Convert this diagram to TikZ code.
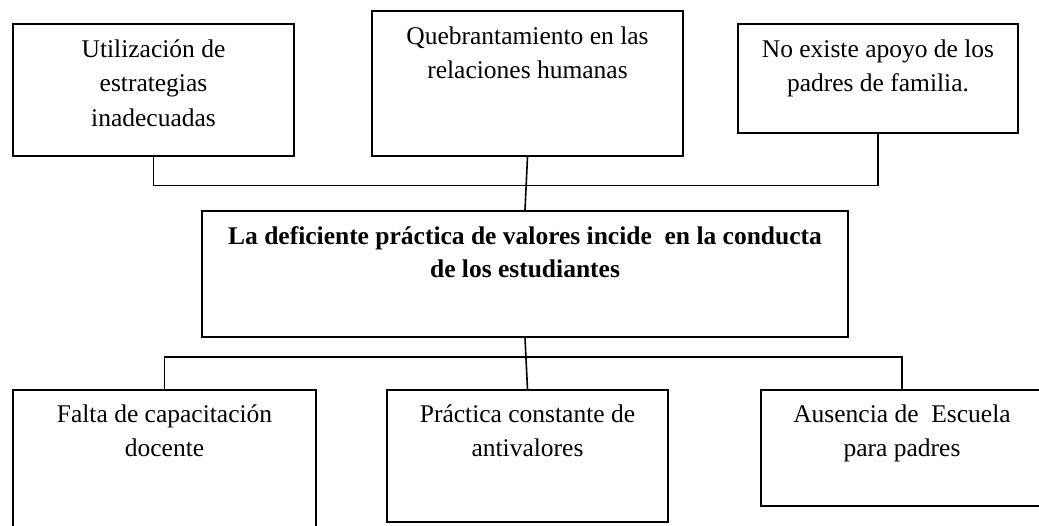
\documentclass[tikz,border=0pt]{standalone}
\usepackage{fontspec}
\setmainfont{Liberation Serif}
\usepackage{tikz}
\usetikzlibrary{positioning}

\begin{document}
\begin{tikzpicture}[x=1pt,y=-1pt,
    box/.style={draw, line width=1.6pt, inner sep=0pt},
    lbl/.style={align=center, inner sep=0pt, anchor=base,
      font=\fontsize{25.5}{34.5}\selectfont},
    link/.style={line width=1.6pt}]
        \useasboundingbox (0,0) rectangle (1039,526);
        \clip (0,0) rectangle (1039,526);

         % top row (base = last line)
        \node[box, minimum width=281, minimum height=132] (top1) at (153.5,90) {};
        \node[lbl] (top1t) at ([yshift=-103]top1.north) {Utilización de\\estrategias\\inadecuadas};
        \node[box, minimum width=311, minimum height=145] (top2) at (527.5,83.5) {};
        \node[lbl] (top2t) at ([yshift=-68.5]top2.north) {Quebrantamiento en las\\relaciones humanas};
        \node[box, minimum width=280, minimum height=109] (top3) at (878,78.5) {};
        \node[lbl] (top3t) at ([yshift=-68.5]top3.north) {No existe apoyo de los\\padres de familia.};

         % problem
        \node[box, minimum width=646, minimum height=126] (core) at (525,274) {};
        \node[lbl, font=\fontsize{25.5}{33}\selectfont\bfseries] (coret) at ([yshift=-67]core.north)
          {La deficiente práctica de valores incide\ \ en la conducta\\de los estudiantes};

         % bottom row
        \node[box, minimum width=303, minimum height=150] (bot1) at (164.5,465) {};
        \node[lbl] (bot1t) at ([yshift=-67.5]bot1.north) {Falta de capacitación\\docente};
        \node[box, minimum width=281, minimum height=132] (bot2) at (527.5,456) {};
        \node[lbl] (bot2t) at ([yshift=-67.5]bot2.north) {Práctica constante de\\antivalores};
        \node[box, minimum width=282, minimum height=116] (bot3) at (902,448) {};
        \node[lbl] (bot3t) at ([yshift=-67.5]bot3.north) {Ausencia de\ \ Escuela\\para padres};

         % links
        \coordinate (topbar) at (0,185.5);
        \coordinate (botbar) at (0,357);
        \draw[link] (top1.south) |- (top3.south |- topbar) -- (top3.south);
        \draw[link] (top2.south) -- (core.north);
        \draw[link] (bot1.north) |- (bot3.north |- botbar) -- (bot3.north);
        \draw[link] (core.south) -- (bot2.north);

      \end{tikzpicture}
\end{document}
